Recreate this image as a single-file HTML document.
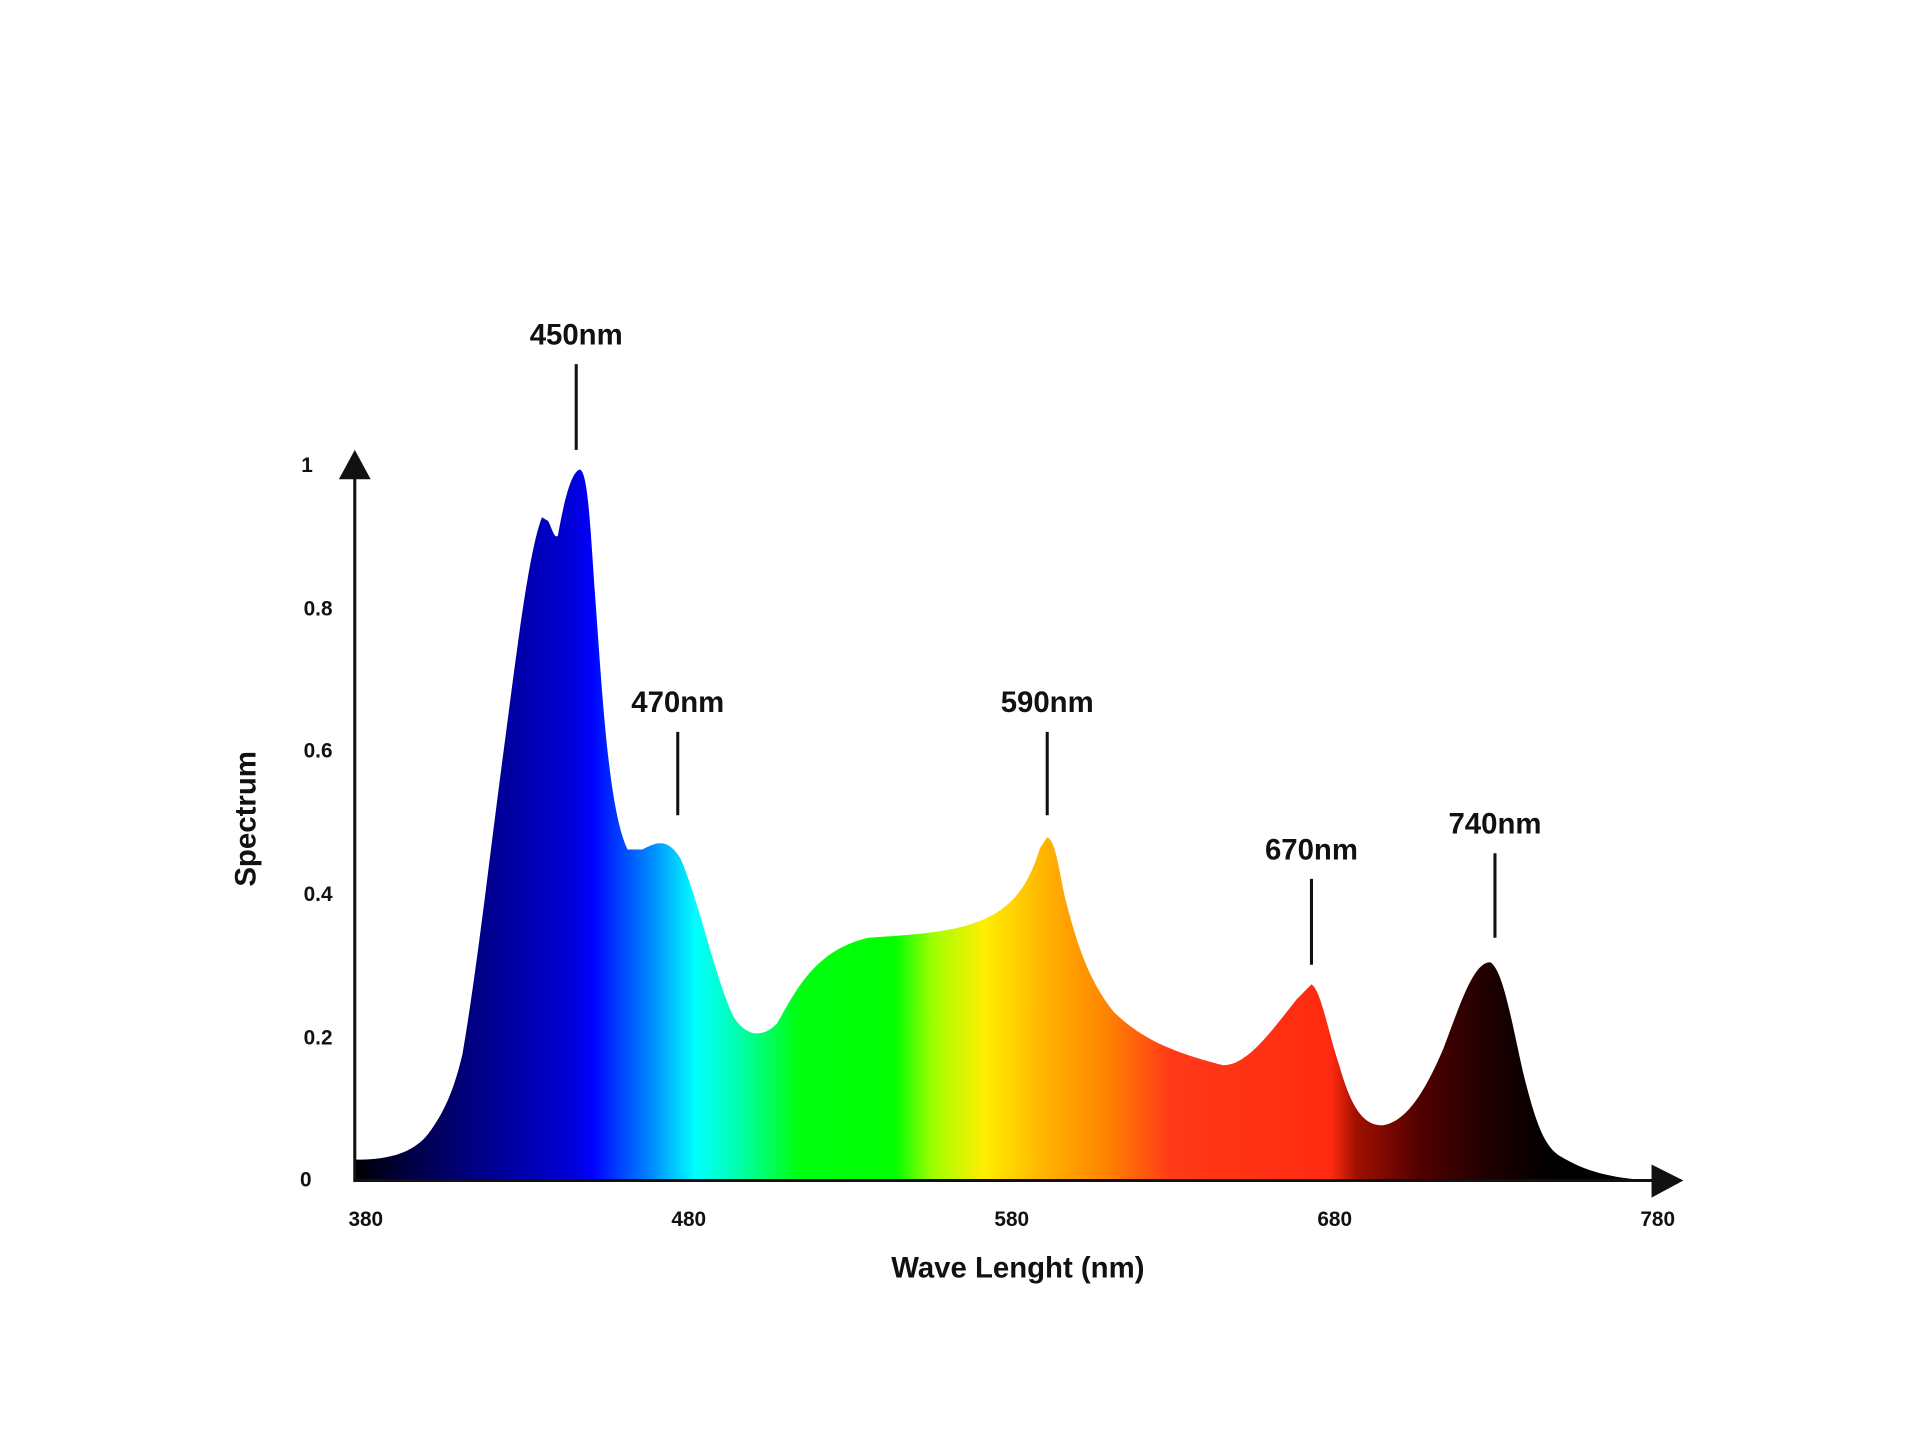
<!DOCTYPE html>
<html><head><style>html,body{margin:0;padding:0;background:#fff}svg{display:block}</style></head>
<body>
<svg width="1920" height="1440" viewBox="0 0 1560 1170" xmlns="http://www.w3.org/2000/svg" font-family="Liberation Sans, sans-serif" font-weight="bold">
<defs>
<linearGradient id="g" gradientUnits="userSpaceOnUse" x1="290" y1="0" x2="1340" y2="0">
<stop offset="0" stop-color="#000000"/>
<stop offset="0.04" stop-color="#000040"/>
<stop offset="0.105" stop-color="#000090"/>
<stop offset="0.17" stop-color="#0000d8"/>
<stop offset="0.185" stop-color="#0000ff"/>
<stop offset="0.23" stop-color="#0088ff"/>
<stop offset="0.265" stop-color="#00ffff"/>
<stop offset="0.30" stop-color="#00ffaa"/>
<stop offset="0.345" stop-color="#00ff10"/>
<stop offset="0.42" stop-color="#00ff00"/>
<stop offset="0.45" stop-color="#a0ff00"/>
<stop offset="0.49" stop-color="#ffee00"/>
<stop offset="0.54" stop-color="#ffb000"/>
<stop offset="0.585" stop-color="#ff8400"/>
<stop offset="0.635" stop-color="#ff3a18"/>
<stop offset="0.76" stop-color="#ff2a10"/>
<stop offset="0.78" stop-color="#a01000"/>
<stop offset="0.83" stop-color="#500000"/>
<stop offset="0.88" stop-color="#200000"/>
<stop offset="0.93" stop-color="#000000"/>
</linearGradient>
</defs>
<g transform="scale(0.994,0.996)">
<path fill="url(#g)" d="M290,946 C310,946 335,944 350,925 C365,905 372,885 378,860 C390,790 400,700 412,610 C422,535 432,450 443,422 L448,425 C451,430 453,440 456,437 C460,415 466,385 474,383 C480,385 482,420 486,480 C492,560 497,660 513,693 L525,693 C535,688 545,682 556,700 C570,730 585,800 600,830 C612,848 625,845 635,835 C650,810 665,775 710,765 C740,763 770,761 790,755 C825,745 840,725 850,692 L856,683 C862,685 865,705 870,730 C880,770 890,800 910,825 C935,850 965,860 1000,869 C1020,869 1040,840 1060,815 L1072,803 C1080,808 1085,840 1095,870 C1105,905 1115,918 1130,918 C1150,915 1165,890 1180,855 C1195,815 1205,785 1218,785 C1228,790 1235,830 1245,875 C1255,915 1262,935 1275,943 C1295,955 1315,961 1350,963 L290,963 Z"/>
<g stroke="#111" stroke-width="2.5" fill="none">
<line x1="290" y1="385" x2="290" y2="964"/>
<line x1="289" y1="963" x2="1355" y2="963"/>
<line x1="471" y1="297" x2="471" y2="367"/>
<line x1="554" y1="597" x2="554" y2="665"/>
<line x1="856" y1="597" x2="856" y2="665"/>
<line x1="1072" y1="717" x2="1072" y2="787"/>
<line x1="1222" y1="696" x2="1222" y2="765"/>
</g>
<polygon points="290,367 277,391 303,391" fill="#111"/>
<polygon points="1376,963 1350,950 1350,977" fill="#111"/>
<g fill="#111" font-size="17" text-anchor="middle">
<text x="251" y="385">1</text>
<text x="260" y="502">0.8</text>
<text x="260" y="618">0.6</text>
<text x="260" y="735">0.4</text>
<text x="260" y="852">0.2</text>
<text x="250" y="968">0</text>
<text x="299" y="1000">380</text>
<text x="563" y="1000">480</text>
<text x="827" y="1000">580</text>
<text x="1091" y="1000">680</text>
<text x="1355" y="1000">780</text>
</g>
<g fill="#111" font-size="24" text-anchor="middle">
<text x="471" y="281">450nm</text>
<text x="554" y="581">470nm</text>
<text x="856" y="581">590nm</text>
<text x="1072" y="701">670nm</text>
<text x="1222" y="680">740nm</text>
<text x="832" y="1042">Wave Lenght (nm)</text>
<text transform="translate(209,668) rotate(-90)">Spectrum</text>
</g>
</g>
</svg>
</body></html>
